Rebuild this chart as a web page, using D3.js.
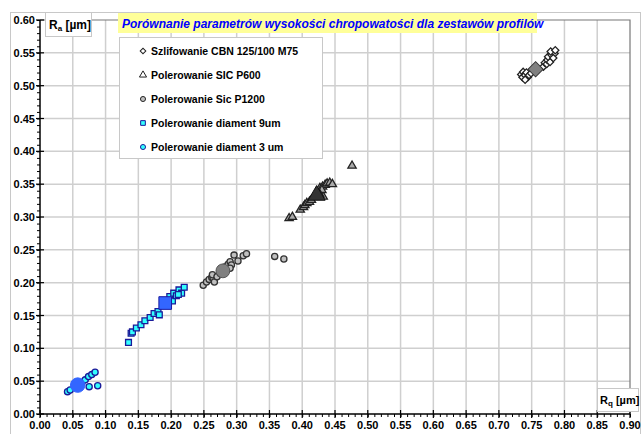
<!DOCTYPE html>
<html>
<head>
<meta charset="utf-8">
<script src="https://cdn.jsdelivr.net/npm/d3@7/dist/d3.min.js"></script>
<style>
  html, body { margin: 0; padding: 0; background: #fff; }
  svg { display: block; font-family: "Liberation Sans", Arial, sans-serif; }
</style>
</head>
<body>
<svg id="chart" width="642" height="434"></svg>
<script>
// Surface roughness: Ra vs Rq for each finishing method (small = single profiles, large = mean)
const seriesNames = [
  "Szlifowanie CBN 125/100 M75",
  "Polerowanie SIC P600",
  "Polerowanie Sic P1200",
  "Polerowanie diament 9um",
  "Polerowanie diament 3 um"
];

// [Rq, Ra] pairs
const cbnPoints = [
  [0.734, 0.517], [0.737, 0.521], [0.736, 0.513], [0.740, 0.516], [0.742, 0.520],
  [0.744, 0.513], [0.740, 0.509], [0.746, 0.516], [0.749, 0.519],
  [0.768, 0.529], [0.770, 0.535], [0.773, 0.533], [0.774, 0.539], [0.778, 0.536],
  [0.775, 0.544], [0.780, 0.547], [0.785, 0.549], [0.783, 0.542], [0.779, 0.552], [0.786, 0.554]
];
const p600Points = [
  [0.380, 0.298], [0.385, 0.300], [0.397, 0.311], [0.402, 0.315], [0.404, 0.318],
  [0.407, 0.321], [0.411, 0.323], [0.414, 0.326], [0.427, 0.344], [0.431, 0.346],
  [0.435, 0.349], [0.438, 0.351], [0.442, 0.352], [0.446, 0.350], [0.432, 0.331],
  [0.430, 0.341], [0.427, 0.334], [0.476, 0.378]
];
const p1200Points = [
  [0.249, 0.196], [0.254, 0.201], [0.258, 0.205], [0.262, 0.208], [0.264, 0.207],
  [0.266, 0.201], [0.263, 0.212], [0.270, 0.209], [0.275, 0.214], [0.282, 0.224],
  [0.287, 0.228], [0.290, 0.232], [0.292, 0.227], [0.290, 0.222], [0.296, 0.242],
  [0.302, 0.233], [0.310, 0.241], [0.315, 0.244], [0.358, 0.240], [0.372, 0.236]
];
const dia9Points = [
  [0.135, 0.109], [0.139, 0.123], [0.141, 0.125], [0.147, 0.131], [0.154, 0.136],
  [0.160, 0.142], [0.168, 0.147], [0.174, 0.153], [0.180, 0.156], [0.182, 0.151],
  [0.198, 0.179], [0.202, 0.172], [0.204, 0.184], [0.208, 0.180], [0.212, 0.189],
  [0.216, 0.184], [0.220, 0.193], [0.211, 0.182]
];
const dia3Points = [
  [0.042, 0.034], [0.046, 0.0365], [0.064, 0.048], [0.069, 0.052], [0.074, 0.057],
  [0.079, 0.060], [0.084, 0.0635], [0.075, 0.0416], [0.088, 0.043]
];
const meanPoints = [
  [0.756, 0.525], [0.422, 0.333], [0.279, 0.218], [0.191, 0.169], [0.0575, 0.044]
];

const xTicks = d3.range(0, 0.9001, 0.05);
const yTicks = d3.range(0, 0.6001, 0.05);

const svg = d3.select("#chart");
const x = d3.scaleLinear().domain([0, 0.9]).range([40, 630]);
const y = d3.scaleLinear().domain([0, 0.6]).range([414, 20]);

// chart frame
svg.append("rect").attr("x", 10.5).attr("y", 12.5).attr("width", 630).attr("height", 430)
  .attr("fill", "#fff").attr("stroke", "#c8c8c8").attr("stroke-width", 1);

// gridlines
const grid = svg.append("g");
grid.selectAll(".vg").data(xTicks.slice(1, -1)).join("line")
  .attr("x1", d => x(d)).attr("x2", d => x(d)).attr("y1", y(0.6)).attr("y2", y(0))
  .attr("stroke", "#cfcfcf").attr("stroke-width", 1.5);
grid.selectAll(".hg").data(yTicks.slice(1, -1)).join("line")
  .attr("x1", x(0)).attr("x2", x(0.9)).attr("y1", d => y(d)).attr("y2", d => y(d))
  .attr("stroke", "#cfcfcf").attr("stroke-width", 1.5);

// plot area border (top/right)
svg.append("path")
  .attr("d", `M${x(0)},${y(0.6)}H${x(0.9)}V${y(0)}`)
  .attr("fill", "none").attr("stroke", "#777").attr("stroke-width", 1.2);

// axes
const fmt = d3.format(".2f");
const xAxis = svg.append("g").attr("transform", `translate(0,${y(0)})`);
xAxis.call(d3.axisBottom(x).tickValues(d3.range(0, 0.9001, 0.01)).tickSize(3).tickFormat(""));
xAxis.call(g => g.selectAll(".domain").remove());
xAxis.append("line").attr("x1", x(0)).attr("x2", x(0.9)).attr("stroke", "#000").attr("stroke-width", 1.5);
xAxis.selectAll(".major").data(xTicks).join("line")
  .attr("x1", d => x(d)).attr("x2", d => x(d)).attr("y1", -4).attr("y2", 4)
  .attr("stroke", "#000").attr("stroke-width", 1.2);
xAxis.selectAll(".lbl").data(xTicks).join("text")
  .attr("x", d => x(d)).attr("y", 15).attr("text-anchor", "middle").attr("fill", "#000")
  .attr("font-size", 11).attr("font-weight", "bold").text(d => fmt(d));

const yAxis = svg.append("g").attr("transform", `translate(${x(0)},0)`);
yAxis.call(d3.axisLeft(y).tickValues(d3.range(0, 0.6001, 0.01)).tickSize(3).tickFormat(""));
yAxis.call(g => g.selectAll(".domain").remove());
yAxis.append("line").attr("y1", y(0)).attr("y2", y(0.6)).attr("stroke", "#000").attr("stroke-width", 1.5);
yAxis.selectAll(".major").data(yTicks).join("line")
  .attr("y1", d => y(d)).attr("y2", d => y(d)).attr("x1", -4).attr("x2", 4)
  .attr("stroke", "#000").attr("stroke-width", 1.2);
yAxis.selectAll(".lbl").data(yTicks).join("text")
  .attr("x", -5).attr("y", d => y(d) + 4).attr("text-anchor", "end").attr("fill", "#000")
  .attr("font-size", 11).attr("font-weight", "bold").text(d => fmt(d));
svg.selectAll(".tick line").attr("stroke", "#000");

// marker styles per series
const styles = [
  { type: d3.symbolSquare, rot: 45, small: 26, big: 115, fill: "#fff", stroke: "#222", bigFill: "#808080", bigStroke: "#333" },
  { type: d3.symbolTriangle, rot: 0, small: 30, big: 125, fill: "#aaa", stroke: "#222", bigFill: "#333", bigStroke: "#111" },
  { type: d3.symbolCircle, rot: 0, small: 30, big: 150, fill: "#c0c0c0", stroke: "#333", bigFill: "#808080", bigStroke: "#555" },
  { type: d3.symbolSquare, rot: 0, small: 34, big: 160, fill: "#33ffff", stroke: "#1a1a99", bigFill: "#3366ff", bigStroke: "#1a1aa0" },
  { type: d3.symbolCircle, rot: 0, small: 30, big: 165, fill: "#33ffff", stroke: "#1a1a99", bigFill: "#3366ff", bigStroke: "#3366ff" }
];
const allPoints = [cbnPoints, p600Points, p1200Points, dia9Points, dia3Points];

const marks = svg.append("g");
allPoints.forEach((pts, i) => {
  const s = styles[i];
  const g = marks.append("g");
  g.selectAll("path").data(pts).join("path")
    .attr("d", d3.symbol().type(s.type).size(s.small))
    .attr("transform", d => `translate(${x(d[0])},${y(d[1])}) rotate(${s.rot})`)
    .attr("fill", s.fill).attr("stroke", s.stroke).attr("stroke-width", 1.3);
  g.append("path").datum(meanPoints[i])
    .attr("d", d3.symbol().type(s.type).size(s.big))
    .attr("transform", d => `translate(${x(d[0])},${y(d[1])}) rotate(${s.rot})`)
    .attr("fill", s.bigFill).attr("stroke", s.bigStroke).attr("stroke-width", 1);
});

// title
svg.append("rect").attr("x", 118).attr("y", 13).attr("width", 419).attr("height", 20)
  .attr("fill", "#ffff99");
svg.append("text").attr("x", 122).attr("y", 27.5)
  .attr("font-size", 12).attr("font-weight", "bold").attr("font-style", "italic")
  .attr("fill", "#0000ff")
  .text("Porównanie parametrów wysokości chropowatości dla zestawów profilów");

// y axis title
svg.append("rect").attr("x", 45.5).attr("y", 12.5).attr("width", 46).attr("height", 24)
  .attr("fill", "#fff").attr("stroke", "#c8c8c8");
const yt = svg.append("text").attr("x", 49).attr("y", 29).attr("font-size", 12).attr("font-weight", "bold");
yt.append("tspan").text("R");
yt.append("tspan").attr("font-size", 8).attr("dy", 2).text("a");
yt.append("tspan").attr("dy", -2).text(" [µm]");

// x axis title
svg.append("rect").attr("x", 597.5).attr("y", 388.5).attr("width", 41).attr("height", 23)
  .attr("fill", "#fff").attr("stroke", "#c8c8c8");
const xt = svg.append("text").attr("x", 600).attr("y", 404).attr("font-size", 11).attr("font-weight", "bold");
xt.append("tspan").text("R");
xt.append("tspan").attr("font-size", 8).attr("dy", 2).text("q");
xt.append("tspan").attr("dy", -2).text(" [µm]");

// legend
const lg = svg.append("g");
lg.append("rect").attr("x", 119.5).attr("y", 37.5).attr("width", 203).attr("height", 121)
  .attr("fill", "#fff").attr("stroke", "#c8c8c8");
const legendSizes = [16, 22, 20, 22, 20];
seriesNames.forEach((name, i) => {
  const s = styles[i];
  const cy = 51 + i * 24;
  lg.append("path")
    .attr("d", d3.symbol().type(s.type).size(legendSizes[i]))
    .attr("transform", `translate(143,${cy}) rotate(${s.rot})`)
    .attr("fill", i < 2 ? "#fff" : s.fill).attr("stroke", i < 3 ? "#222" : "#1a1a99").attr("stroke-width", 1);
  lg.append("text").attr("x", 151).attr("y", cy + 3.8)
    .attr("font-size", 10.5).attr("font-weight", "bold").text(name);
});
</script>
</body>
</html>
